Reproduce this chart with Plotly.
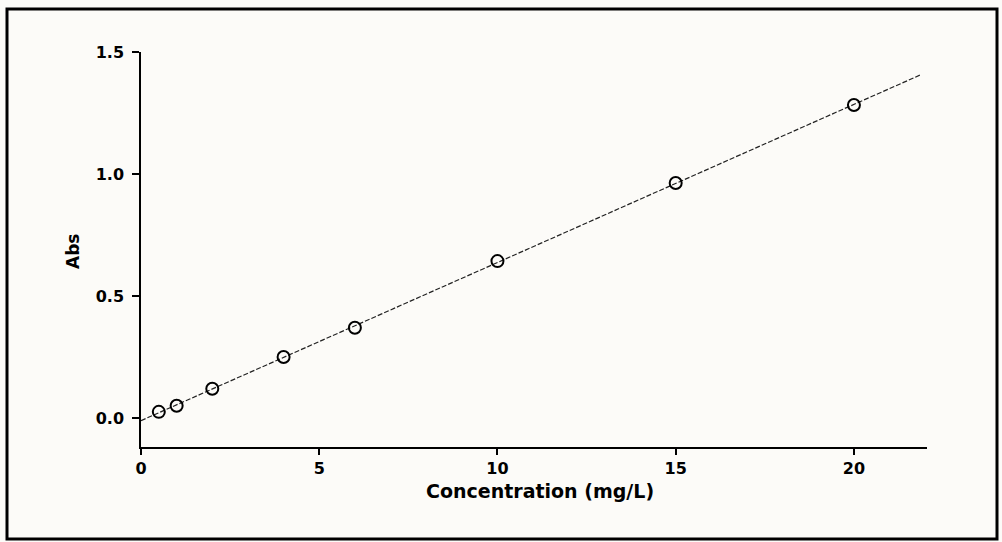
import numpy as np
import plotly.graph_objects as go

# Data
concentration = [0.5, 1, 2, 4, 6, 10, 15, 20]
absorbance = [0.025, 0.05, 0.12, 0.25, 0.37, 0.643, 0.963, 1.283]
fit_x_range = [0, 21.9]
x_ticks = [0, 5, 10, 15, 20]
y_ticks = [0.0, 0.5, 1.0, 1.5]
x_title = "Concentration (mg/L)"
y_title = "Abs"

slope, intercept = np.polyfit(concentration, absorbance, 1)
fit_x = np.array(fit_x_range)
fit_y = slope * fit_x + intercept

W, H = 1002, 542
ML, MR, MT, MB = 141, 75, 52, 95
pw, ph = W - ML - MR, H - MT - MB

def px_x(p):
    return (p - ML) / pw

def px_y(p):
    return (H - MB - p) / ph

FONT = "DejaVu Sans"

fig = go.Figure()
fig.add_trace(go.Scatter(
    x=fit_x, y=fit_y, mode="lines",
    line=dict(color="#222222", width=1.2, dash="5px,2px"),
    hoverinfo="skip", showlegend=False,
))
fig.add_trace(go.Scatter(
    x=concentration, y=absorbance, mode="markers",
    marker=dict(symbol="circle-open", size=12, color="black", line=dict(width=2, color="black")),
    showlegend=False,
))

fig.update_layout(
    width=W, height=H,
    margin=dict(l=ML, r=MR, t=MT, b=MB, autoexpand=False),
    paper_bgcolor="#fcfbf8",
    plot_bgcolor="rgba(0,0,0,0)",
    font=dict(family=FONT, color="black"),
    xaxis=dict(
        range=[0, 22.05], tickvals=x_ticks, showgrid=False, zeroline=False,
        showline=True, linecolor="black", linewidth=1.5,
        ticks="outside", ticklen=6, tickwidth=1.5, tickcolor="black",
        tickfont=dict(family=FONT, size=16, weight="bold"),
        ticklabelstandoff=0,
    ),
    yaxis=dict(
        range=[-0.119, 1.5], tickvals=y_ticks, tickformat=".1f", showgrid=False, zeroline=False,
        showline=True, linecolor="black", linewidth=1.5,
        ticks="outside", ticklen=7, tickwidth=1.5, tickcolor="black",
        tickfont=dict(family=FONT, size=16, weight="bold"),
        ticklabelstandoff=5,
    ),
    annotations=[
        dict(text=x_title, xref="paper", yref="paper", x=px_x(540), y=px_y(491),
             xanchor="center", yanchor="middle", showarrow=False,
             font=dict(family=FONT, size=19, weight="bold", color="black")),
        dict(text=y_title, xref="paper", yref="paper", x=px_x(73), y=px_y(252),
             xanchor="center", yanchor="middle", showarrow=False, textangle=-90,
             font=dict(family=FONT, size=17, weight="bold", color="black")),
    ],
    shapes=[
        dict(type="rect", xref="paper", yref="paper",
             x0=px_x(7), x1=px_x(997), y0=px_y(539), y1=px_y(9),
             line=dict(color="black", width=3), layer="below"),
    ],
)

fig.write_html("out.html", config={"displayModeBar": False},
               post_script="document.body.style.margin='0';")
